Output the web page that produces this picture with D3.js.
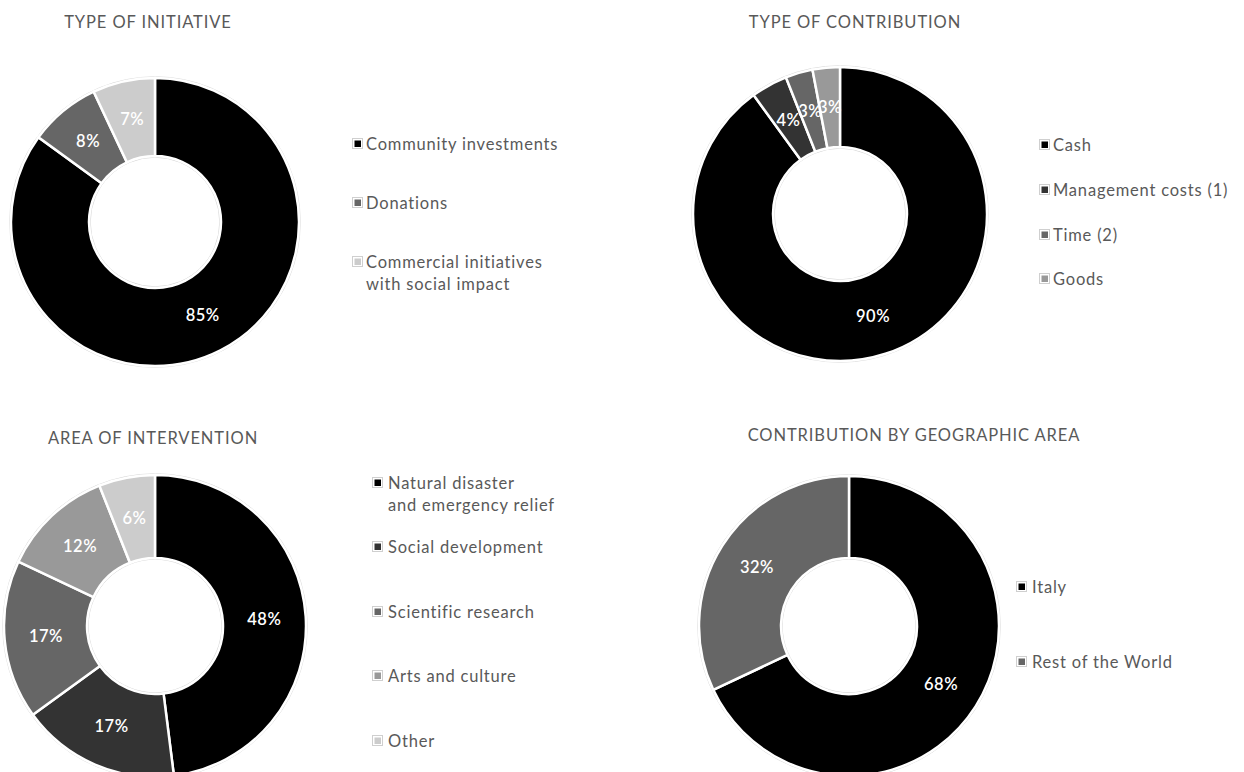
<!DOCTYPE html>
<html>
<head>
<meta charset="utf-8">
<script src="https://cdn.jsdelivr.net/npm/d3@7"></script>
<style>
  html, body { margin: 0; padding: 0; background: #fff; }
  svg { display: block; font-family: "Lato", "Open Sans", sans-serif; }
</style>
</head>
<body>
<svg id="chart" width="1244" height="772"></svg>
<script>
// ---- Data ----
const initiativeCategories = ["Community investments", "Donations", "Commercial initiatives|with social impact"];
const initiativeValues = [85, 8, 7];

const contributionCategories = ["Cash", "Management costs (1)", "Time (2)", "Goods"];
const contributionValues = [90, 4, 3, 3];

const interventionCategories = ["Natural disaster|and emergency relief", "Social development", "Scientific research", "Arts and culture", "Other"];
const interventionValues = [48, 17, 17, 12, 6];

const geographyCategories = ["Italy", "Rest of the World"];
const geographyValues = [68, 32];

// ---- Layout of the four panels ----
const panels = [
  {
    title: "TYPE OF INITIATIVE", titleX: 148, titleY: 28,
    categories: initiativeCategories, values: initiativeValues,
    colors: ["#000000", "#666666", "#cccccc"],
    cx: 155, cy: 222, outer: 144, inner: 66,
    legendX: 353, textGap: 13, legendRows: [144, 203, 262]
  },
  {
    title: "TYPE OF CONTRIBUTION", titleX: 855, titleY: 28,
    categories: contributionCategories, values: contributionValues,
    colors: ["#000000", "#333333", "#666666", "#999999"],
    cx: 840, cy: 214, outer: 147, inner: 67,
    legendX: 1040, textGap: 13, legendRows: [145, 190, 235, 279]
  },
  {
    title: "AREA OF INTERVENTION", titleX: 153, titleY: 444,
    categories: interventionCategories, values: interventionValues,
    colors: ["#000000", "#333333", "#666666", "#999999", "#cccccc"],
    cx: 155, cy: 626, outer: 151, inner: 68,
    legendX: 373, textGap: 15, legendRows: [483, 547, 612, 676, 741]
  },
  {
    title: "CONTRIBUTION BY GEOGRAPHIC AREA", titleX: 914, titleY: 441,
    categories: geographyCategories, values: geographyValues,
    colors: ["#000000", "#666666"],
    cx: 849, cy: 626, outer: 150, inner: 68,
    legendX: 1017, textGap: 15, legendRows: [587, 662]
  }
];

const svg = d3.select("#chart");
const pie = d3.pie().sort(null).value(d => d.value);

panels.forEach(p => {
  const data = p.categories.map((c, i) => ({ label: c, value: p.values[i] }));
  const color = d3.scaleOrdinal().domain(p.categories).range(p.colors);
  const arc = d3.arc().innerRadius(p.inner).outerRadius(p.outer);
  const arcs = pie(data);

  // Title
  svg.append("text")
    .attr("x", p.titleX).attr("y", p.titleY)
    .attr("text-anchor", "middle")
    .attr("fill", "#595959")
    .attr("font-size", 16.5)
    .attr("letter-spacing", 0.9)
    .text(p.title);

  const g = svg.append("g").attr("transform", `translate(${p.cx},${p.cy})`);

  // Faint rim around the ring
  g.append("circle").attr("r", p.outer + 1.2)
    .attr("fill", "none").attr("stroke", "#d9d9d9").attr("stroke-width", 1);
  g.append("circle").attr("r", p.inner - 1.2)
    .attr("fill", "none").attr("stroke", "#d9d9d9").attr("stroke-width", 1);

  // Slices
  g.selectAll("path.slice")
    .data(arcs)
    .join("path")
    .attr("class", "slice")
    .attr("d", arc)
    .attr("fill", d => color(d.data.label))
    .attr("stroke", "#ffffff")
    .attr("stroke-width", 2.5)
    .attr("stroke-linejoin", "miter");

  // Percentage labels at the slice centroids
  g.selectAll("text.value")
    .data(arcs)
    .join("text")
    .attr("class", "value")
    .attr("transform", d => `translate(${arc.centroid(d)})`)
    .attr("text-anchor", "middle")
    .attr("dy", "0.35em")
    .attr("fill", "#ffffff")
    .attr("font-size", 16.5)
    .attr("font-weight", 600)
    .attr("letter-spacing", 0.5)
    .text(d => d.data.value + "%");

  // Legend
  const lg = svg.append("g");
  data.forEach((d, i) => {
    const y = p.legendRows[i];
    lg.append("rect")
      .attr("x", p.legendX - 0.5).attr("y", y - 5.5)
      .attr("width", 10).attr("height", 10)
      .attr("fill", "#ffffff").attr("stroke", "#cfcfcf").attr("stroke-width", 1);
    lg.append("rect")
      .attr("x", p.legendX + 1.5).attr("y", y - 3.5)
      .attr("width", 6.5).attr("height", 6.5)
      .attr("fill", color(d.label));
    const lines = d.label.split("|");
    const t = lg.append("text")
      .attr("x", p.legendX + p.textGap).attr("y", y)
      .attr("fill", "#595959")
      .attr("font-size", 16.5)
      .attr("letter-spacing", 0.8);
    lines.forEach((ln, j) => {
      t.append("tspan")
        .attr("x", p.legendX + p.textGap)
        .attr("y", y + j * 22)
        .attr("dy", "0.35em")
        .text(ln);
    });
  });
});
</script>
</body>
</html>
